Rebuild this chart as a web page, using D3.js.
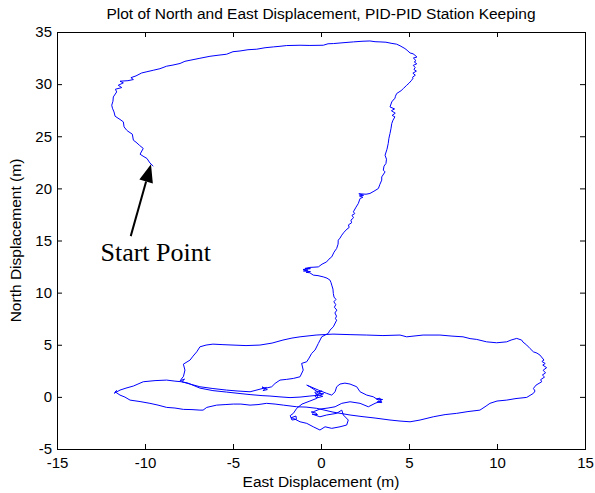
<!DOCTYPE html>
<html>
<head>
<meta charset="utf-8">
<script src="https://cdn.jsdelivr.net/npm/d3@7"></script>
<style>
  body { margin: 0; background: #fff; }
  svg { display: block; }
</style>
</head>
<body>
<svg id="chart" width="595" height="493"></svg>
<script>
"use strict";

// Track samples as [east, north] in metres, in path order.
// Start point, up and round the top, down the right-hand side.
const outboundLeg = [
  [-9.53,22.13],[-9.72,22.44],[-9.89,22.87],[-10.11,23.09],[-10.28,23.28],[-10.10,23.83],
  [-10.32,24.14],[-10.51,24.43],[-10.66,24.62],[-10.72,25.20],[-10.97,25.48],[-11.04,25.58],
  [-11.19,25.90],[-11.23,26.38],[-11.42,26.61],[-11.70,26.92],[-11.76,27.33],[-11.85,27.69],
  [-11.89,27.98],[-11.82,28.36],[-11.80,28.77],[-11.61,29.25],[-11.68,29.51],[-11.32,29.67],
  [-11.52,29.89],[-11.23,30.12],[-11.42,30.28],[-10.97,30.33],[-10.66,30.44],[-10.80,30.62],
  [-10.51,30.79],[-10.19,31.07],[-9.89,31.19],[-9.53,31.33],[-9.15,31.48],[-8.77,31.72],
  [-8.41,31.83],[-8.01,31.98],[-7.73,32.19],[-7.44,32.29],[-6.88,32.48],[-6.31,32.67],
  [-5.85,32.77],[-5.36,32.87],[-5.00,33.11],[-4.60,33.18],[-4.15,33.30],[-3.65,33.35],
  [-3.18,33.49],[-2.71,33.57],[-2.33,33.63],[-1.95,33.70],[-1.19,33.73],[-0.63,33.71],
  [0.13,33.73],[0.40,33.87],[0.70,33.89],[1.25,33.97],[1.84,34.05],[2.33,34.11],
  [2.78,34.14],[3.07,34.07],[3.35,34.05],[3.69,34.02],[3.98,33.92],[4.30,33.83],
  [4.49,33.68],[4.77,33.41],[4.89,33.25],[5.06,32.99],[5.23,32.91],[5.34,32.77],
  [5.45,32.60],[5.25,32.50],[5.40,32.25],[5.30,32.13],[5.44,31.95],[5.24,31.80],
  [5.35,31.60],[5.28,31.40],[5.42,31.25],[5.22,31.05],[5.36,30.86],[5.20,30.66],
  [5.23,30.57],[5.15,30.37],[5.00,30.09],[4.87,29.89],[4.68,29.58],[4.55,29.37],
  [4.30,29.10],[4.23,28.84],[4.20,28.62],[4.09,28.46],[4.02,28.29],[3.92,27.81],
  [4.18,27.62],[4.00,27.45],[4.22,27.21],[4.04,27.00],[4.20,26.86],[4.09,26.54],
  [4.02,26.22],[3.98,25.77],[3.92,25.26],[3.86,24.81],[3.82,24.31],[3.75,23.76],
  [3.64,23.18],[3.72,22.80],[3.69,22.39],[3.58,22.13],[3.54,21.75],[3.64,21.58],
  [3.45,21.10]
];

// Drift back down towards the origin.
const descentLeg = [
  [3.45,20.79],[3.35,20.40],[3.26,19.99],[3.01,19.73],[2.78,19.51],[2.56,19.44],
  [2.15,19.48],[2.42,19.34],[2.18,19.28],[2.38,19.15],[2.22,19.03],[2.12,18.55],
  [1.99,18.20],[1.84,17.75],[1.92,17.58],[1.76,17.42],[1.85,17.18],[1.70,16.95],
  [1.74,16.70],[1.56,16.50],[1.60,16.25],[1.48,16.10],[1.31,15.80],[1.18,15.51],
  [1.08,15.23],[0.98,15.03],[0.97,14.65],[0.89,14.24],[0.74,13.88],[0.61,13.43],
  [0.45,13.21],[0.32,12.95],[0.06,12.73],[-0.15,12.47],[-0.40,12.44],[-0.63,12.42],
  [-0.91,12.32],[-0.60,12.30],[-1.02,12.22],[-0.74,12.16],[-1.00,12.08],[-0.60,12.02],
  [-0.85,11.95],[-0.63,11.90],[-0.44,11.68],[-0.17,11.63],[0.13,11.51],[0.34,11.39],
  [0.51,11.20],[0.57,10.96],[0.61,10.72],[0.68,10.34],[0.70,9.92],[0.74,9.57],
  [0.85,9.35],[0.73,9.12],[0.84,8.85],[0.76,8.60],[0.90,8.32],[0.79,8.05],
  [0.88,7.75],[0.82,7.50],[0.89,7.36],[0.70,6.72],[0.51,6.40],[0.41,6.09],
  [0.04,5.76],[-0.15,5.13],[-0.34,4.49],[-0.53,4.17],[-0.68,3.72],[-0.81,3.37],
  [-1.10,3.21],[-1.01,2.57],[-1.19,1.93],[-1.57,1.77],[-1.95,1.68],[-2.33,1.61],
  [-2.61,1.29],[-2.80,0.97],[-3.18,0.81],[-3.35,0.95],[-3.05,0.70],[-3.30,0.60],
  [-3.10,0.90]
];

// Big loop: west, up, across the top to the east, back along the bottom.
const bigLoop = [
  [-4.03,0.49],[-4.72,0.56],[-5.36,0.65],[-6.14,0.80],[-6.88,0.97],[-7.44,1.23],
  [-7.91,1.45],[-7.75,1.70],[-8.00,1.55],[-7.85,1.90],[-7.82,1.93],[-7.73,2.57],
  [-7.82,3.14],[-7.44,3.53],[-7.27,3.91],[-7.06,4.32],[-6.88,4.80],[-6.53,4.97],
  [-6.14,5.06],[-5.57,5.01],[-5.00,4.97],[-4.26,4.92],[-3.47,4.97],[-2.78,5.16],
  [-2.16,5.45],[-1.65,5.64],[-1.19,5.76],[-0.28,5.93],[0.68,6.02],[1.65,5.97],
  [2.60,5.93],[3.52,5.88],[4.49,5.93],[4.87,5.76],[5.80,5.93],[6.76,5.93],
  [7.44,5.83],[8.07,5.76],[8.47,5.59],[8.85,5.51],[9.41,5.28],[9.98,5.19],
  [10.55,5.28],[10.80,5.45],[11.12,5.61],[11.40,5.45],[11.48,5.25],[11.69,4.97],
  [11.88,4.63],[12.07,4.32],[12.27,4.20],[12.44,4.01],[12.67,3.53],[12.55,3.40],
  [12.74,3.20],[12.60,3.05],[12.82,2.80],[12.62,2.55],[12.76,2.30],[12.58,2.10],
  [12.70,1.90],[12.48,1.65],[12.54,1.45],[12.22,1.13],[12.07,0.81],[12.16,0.56],
  [12.07,0.34],[11.69,-0.05],[11.08,-0.16],[10.55,-0.31],[10.00,-0.40],[9.60,-0.62],
  [9.38,-0.88],[9.03,-1.27],[8.35,-1.41],[7.71,-1.58],[7.05,-1.70],[6.38,-1.91],
  [5.63,-2.22],[5.06,-2.39],[4.49,-2.32],[3.92,-2.22],[3.07,-2.03],[2.33,-1.89],
  [1.65,-1.74],[0.68,-1.46],[-0.24,-1.10],[-0.85,-0.98],[-1.38,-0.95],[-2.14,-0.79],
  [-2.61,-0.69],[-3.09,-0.62],[-3.58,-0.74],[-4.03,-0.79],[-4.55,-0.69],[-4.98,-0.69],
  [-5.45,-0.74],[-5.93,-0.79],[-6.49,-1.01],[-6.70,-1.27],[-6.88,-1.27],[-7.33,-1.22],
  [-7.82,-1.20],[-8.30,-1.07],[-8.77,-1.01],[-9.26,-0.79],[-9.72,-0.62],[-10.28,-0.45],
  [-10.85,-0.31],[-11.14,-0.02],[-11.42,0.17],[-11.70,0.49],[-11.60,0.60],[-11.75,0.35],
  [-11.42,0.65],[-11.08,0.84],[-10.66,1.04],[-10.40,1.23],[-10.10,1.45],[-9.43,1.56],
  [-8.77,1.61],[-8.30,1.51],[-7.91,1.45]
];

// Return to the origin and the small loops round it.
const finalLeg = [
  [-7.56,1.32],[-6.88,0.84],[-6.14,0.60],[-5.36,0.46],[-4.60,0.32],[-4.03,0.22],
  [-3.35,0.12],[-2.90,0.08],[-2.33,0.00],[-1.76,-0.07],[-1.19,-0.02],[-0.63,0.08],
  [-0.06,0.17],[0.15,0.30],[-0.15,0.34],[0.06,0.56],[-0.35,0.45],[-0.28,0.27],
  [0.10,0.05],[-0.06,-0.02],[-0.25,-0.10],[-0.34,0.08],[-0.17,0.46],[-0.63,0.97],
  [-0.81,1.13],[-0.15,0.65],[0.32,0.34],[0.61,0.17],[0.80,0.49],[0.89,0.97],
  [1.08,1.23],[1.36,1.32],[1.65,1.23],[2.03,0.97],[2.22,0.49],[2.60,0.17],
  [2.97,0.01],[3.26,-0.31],[3.50,-0.25],[3.15,-0.20],[3.35,-0.12],[3.45,-0.55],
  [3.18,-0.50],[3.41,-0.40],[3.07,-0.62],[2.69,-0.95],[2.22,-0.62],[1.65,-0.47],
  [1.18,-0.62],[0.80,-0.95],[0.40,-1.07],[-0.06,-1.17],[-0.44,-1.43],[-0.55,-1.45],
  [-0.28,-1.56],[-0.20,-1.70],[-0.51,-1.65],[-0.06,-1.91],[0.32,-1.74],[0.89,-1.58],
  [1.18,-1.27],[1.27,-1.74],[1.55,-2.22],[1.46,-2.70],[1.08,-2.87],[0.61,-3.02],
  [0.23,-2.87],[-0.06,-3.18],[-0.44,-2.87],[-0.81,-2.54],[-1.19,-2.39],[-1.57,-2.06],
  [-1.70,-2.00],[-1.42,-1.84],[-1.40,-2.15],[-1.65,-2.22],[-1.75,-1.80],[-1.57,-1.58],
  [-1.38,-1.10],[-1.08,-0.69],[-0.63,-0.40],[-0.24,-0.14],[-0.17,0.27]
];

const xTicks = [-15, -10, -5, 0, 5, 10, 15];
const yTicks = [-5, 0, 5, 10, 15, 20, 25, 30, 35];

// "Start Point" annotation (data coordinates).
const arrowTail = [-10.81, 15.42];
const arrowTip = [-9.66, 22.32];
const labelAt = [-12.53, 13.06];

const track = outboundLeg.concat(descentLeg, bigLoop, finalLeg);

const svg = d3.select("#chart");
const plotLeft = 57, plotRight = 585, plotTop = 32, plotBottom = 449;
const sansFont = "'Liberation Sans', Arial, sans-serif";
// MATLAB prints a plain hyphen for negatives, not d3's unicode minus.
const plainNumber = d => String(d);

let x = d3.scaleLinear().domain([-15, 15]).range([plotLeft, plotRight]);
let y = d3.scaleLinear().domain([-5, 35]).range([plotBottom, plotTop]);

// Trace.
svg.append("path")
    .datum(track)
    .attr("fill", "none")
    .attr("stroke", "#0000ff")
    .attr("stroke-width", 1)
    .attr("stroke-linejoin", "round")
    .attr("d", d3.line().x(d => x(d[0])).y(d => y(d[1])));

// Axes, ticks pointing inwards on all four sides.
function styleAxis(g) {
    g.attr("font-family", sansFont).attr("font-size", 15);
    g.select(".domain").remove();
    g.selectAll(".tick line").attr("stroke", "#000");
    g.selectAll(".tick text").attr("fill", "#000");
}

svg.append("g")
    .attr("transform", `translate(0,${plotBottom})`)
    .call(d3.axisBottom(x).tickValues(xTicks).tickFormat(plainNumber).tickSize(-5).tickPadding(8))
    .call(styleAxis);
svg.append("g")
    .attr("transform", `translate(0,${plotTop})`)
    .call(d3.axisTop(x).tickValues(xTicks).tickSize(-5).tickFormat(""))
    .call(styleAxis);
svg.append("g")
    .attr("transform", `translate(${plotLeft},0)`)
    .call(d3.axisLeft(y).tickValues(yTicks).tickFormat(plainNumber).tickSize(-5).tickPadding(5))
    .call(styleAxis);
svg.append("g")
    .attr("transform", `translate(${plotRight},0)`)
    .call(d3.axisRight(y).tickValues(yTicks).tickSize(-5).tickFormat(""))
    .call(styleAxis);

svg.append("rect")
    .attr("x", plotLeft + 0.5).attr("y", plotTop + 0.5)
    .attr("width", plotRight - plotLeft).attr("height", plotBottom - plotTop)
    .attr("fill", "none")
    .attr("stroke", "#000")
    .attr("stroke-width", 1);

// Titles.
svg.append("text")
    .attr("x", (plotLeft + plotRight) / 2).attr("y", 19)
    .attr("text-anchor", "middle")
    .attr("font-family", sansFont).attr("font-size", 15.5)
    .text("Plot of North and East Displacement, PID-PID Station Keeping");
svg.append("text")
    .attr("x", (plotLeft + plotRight) / 2).attr("y", 487)
    .attr("text-anchor", "middle")
    .attr("font-family", sansFont).attr("font-size", 15.5)
    .text("East Displacement (m)");
svg.append("text")
    .attr("transform", `translate(21,${(plotTop + plotBottom) / 2}) rotate(-90)`)
    .attr("text-anchor", "middle")
    .attr("font-family", sansFont).attr("font-size", 15.5)
    .text("North Displacement (m)");

// Start point arrow and label.
let tx = x(arrowTail[0]), ty = y(arrowTail[1]);
let hx = x(arrowTip[0]), hy = y(arrowTip[1]);
let len = Math.hypot(hx - tx, hy - ty);
let ux = (hx - tx) / len, uy = (hy - ty) / len;
let headLen = 18, headHalf = 7;
let bx = hx - ux * headLen, by = hy - uy * headLen;

svg.append("line")
    .attr("x1", tx).attr("y1", ty)
    .attr("x2", bx).attr("y2", by)
    .attr("stroke", "#000")
    .attr("stroke-width", 2);
svg.append("polygon")
    .attr("points", [
        [hx, hy],
        [bx - uy * headHalf, by + ux * headHalf],
        [bx + uy * headHalf, by - ux * headHalf]
    ].map(p => p.join(",")).join(" "))
    .attr("fill", "#000");

svg.append("text")
    .attr("x", x(labelAt[0])).attr("y", y(labelAt[1]))
    .attr("font-family", "'Liberation Serif', 'Times New Roman', serif")
    .attr("font-size", 26)
    .attr("fill", "#000")
    .text("Start Point");
</script>
</body>
</html>
